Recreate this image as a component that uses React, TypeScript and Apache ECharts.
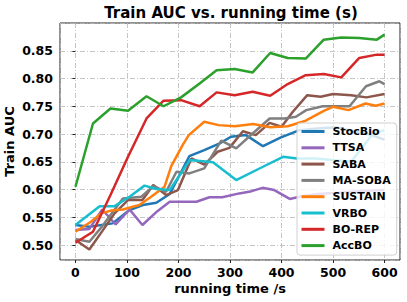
import React, { useEffect, useRef } from "react";
import * as echarts from "echarts";

const seriesNames = ["StocBio", "TTSA", "SABA", "MA-SOBA", "SUSTAIN", "VRBO", "BO-REP", "AccBO"];
const seriesColors = ["#1f77b4", "#9467bd", "#8c564b", "#7f7f7f", "#ff7f0e", "#17becf", "#d62728", "#2ca02c"];

const stocBioT = [0, 27, 72, 105, 131, 157, 183, 221, 250, 280, 302, 331, 364, 399, 435, 470, 505, 540, 575, 600];
const stocBioV = [0.536, 0.533, 0.539, 0.563, 0.572, 0.576, 0.592, 0.660, 0.671, 0.683, 0.695, 0.698, 0.678, 0.694, 0.707, 0.710, 0.712, 0.705, 0.698, 0.690];

const ttsaT = [0, 27, 52, 78, 105, 130, 159, 183, 208, 235, 260, 285, 318, 342, 363, 386, 416, 435, 470, 510, 550, 600];
const ttsaV = [0.527, 0.529, 0.564, 0.537, 0.564, 0.536, 0.561, 0.578, 0.578, 0.578, 0.586, 0.586, 0.593, 0.597, 0.603, 0.599, 0.583, 0.587, 0.592, 0.594, 0.597, 0.599];

const sabaT = [0, 27, 52, 76, 102, 130, 151, 176, 199, 225, 250, 276, 299, 325, 350, 377, 400, 422, 450, 476, 500, 535, 565, 600];
const sabaV = [0.509, 0.492, 0.525, 0.557, 0.581, 0.581, 0.608, 0.590, 0.599, 0.656, 0.645, 0.668, 0.675, 0.705, 0.698, 0.720, 0.713, 0.740, 0.770, 0.767, 0.772, 0.770, 0.766, 0.772];

const maSobaT = [0, 27, 53, 92, 128, 151, 176, 196, 221, 250, 283, 312, 344, 377, 406, 428, 448, 480, 503, 532, 564, 590, 600];
const maSobaV = [0.511, 0.506, 0.535, 0.584, 0.587, 0.606, 0.596, 0.632, 0.629, 0.638, 0.688, 0.674, 0.701, 0.728, 0.728, 0.731, 0.743, 0.750, 0.750, 0.750, 0.786, 0.795, 0.790];

const sustainT = [0, 30, 50, 69, 92, 124, 147, 173, 186, 208, 220, 250, 278, 309, 345, 378, 412, 447, 483, 500, 530, 563, 583, 600];
const sustainV = [0.524, 0.542, 0.557, 0.562, 0.564, 0.572, 0.587, 0.605, 0.642, 0.680, 0.698, 0.722, 0.716, 0.714, 0.718, 0.712, 0.714, 0.724, 0.742, 0.749, 0.743, 0.755, 0.751, 0.755];

const vrboT = [0, 47, 76, 105, 134, 157, 183, 222, 267, 312, 364, 403, 430, 467, 535, 577, 600];
const vrboV = [0.536, 0.570, 0.570, 0.587, 0.607, 0.601, 0.599, 0.653, 0.649, 0.617, 0.641, 0.659, 0.656, 0.656, 0.650, 0.700, 0.707];

const boRepT = [0, 34, 68, 102, 138, 171, 205, 241, 274, 309, 344, 378, 412, 447, 482, 516, 551, 585, 600];
const boRepV = [0.504, 0.524, 0.590, 0.659, 0.728, 0.760, 0.761, 0.750, 0.775, 0.770, 0.776, 0.769, 0.790, 0.806, 0.808, 0.802, 0.837, 0.843, 0.843];

const accBoT = [0, 34, 68, 102, 138, 171, 205, 241, 274, 309, 344, 378, 412, 447, 482, 516, 551, 585, 600];
const accBoV = [0.605, 0.719, 0.746, 0.742, 0.768, 0.750, 0.766, 0.791, 0.815, 0.817, 0.811, 0.846, 0.837, 0.836, 0.870, 0.874, 0.873, 0.870, 0.879];

const allT = [stocBioT, ttsaT, sabaT, maSobaT, sustainT, vrboT, boRepT, accBoT];
const allV = [stocBioV, ttsaV, sabaV, maSobaV, sustainV, vrboV, boRepV, accBoV];

const FONT = "DejaVu Sans";

export default function App() {
  const ref = useRef<HTMLDivElement>(null);
  useEffect(() => {
    if (!ref.current) return;
    const chart = echarts.init(ref.current, undefined, { renderer: "svg" });
    const gridLine = { show: true, lineStyle: { color: "#b8b8b8", width: 0.8, type: [5, 2, 1, 2] } };
    chart.setOption({
      animation: false,
      backgroundColor: "#fff",
      title: {
        text: "Train AUC vs. running time (s)",
        left: 231,
        top: 3,
        padding: 0,
        textAlign: "center",
        textStyle: { fontFamily: FONT, fontWeight: "bold", fontSize: 15, color: "#000", lineHeight: 20 },
      },
      grid: {
        left: 60,
        right: 7,
        top: 23,
        bottom: 42,
        show: true,
        borderColor: "#222",
        borderWidth: 1,
        backgroundColor: "transparent",
        containLabel: false,
        outerBoundsMode: "none",
      },
      xAxis: {
        type: "value",
        min: -30,
        max: 630,
        splitNumber: 6,
        name: "running time /s",
        nameLocation: "middle",
        nameGap: 22,
        nameMoveOverlap: false,
        nameTextStyle: { fontFamily: FONT, fontWeight: "bold", fontSize: 13, color: "#000" },
        axisLine: { show: false },
        axisTick: { show: true, length: 3, lineStyle: { color: "#222" } },
        axisLabel: { showMinLabel: false, showMaxLabel: false, margin: 6, fontFamily: FONT, fontWeight: "bold", fontSize: 12.5, color: "#000" },
        splitLine: gridLine,
      },
      yAxis: {
        type: "value",
        min: 0.473,
        max: 0.9,
        splitNumber: 8,
        name: "Train AUC",
        nameLocation: "middle",
        nameGap: 44,
        nameMoveOverlap: false,
        nameTextStyle: { fontFamily: FONT, fontWeight: "bold", fontSize: 13, color: "#000", lineHeight: 14 },
        axisLine: { show: false },
        axisTick: { show: true, length: 3, lineStyle: { color: "#222" } },
        axisLabel: {
          showMinLabel: false,
          showMaxLabel: false,
          margin: 7,
          fontFamily: FONT,
          fontWeight: "bold",
          fontSize: 12.5,
          color: "#000",
          formatter: (v: number) => v.toFixed(2),
        },
        splitLine: gridLine,
      },
      legend: {
        orient: "vertical",
        left: 297,
        top: 123,
        z: 20,
        padding: [1.5, 6, 2.5, 4.5],
        itemGap: 2.3,
        itemWidth: 23,
        itemHeight: 3,
        backgroundColor: "rgba(255,255,255,0.8)",
        borderColor: "#d0d0d0",
        borderWidth: 1,
        borderRadius: 3,
        textStyle: { fontFamily: FONT, fontWeight: "bold", fontSize: 11, color: "#000", lineHeight: 14, padding: [0, 0, 0, 3] },
        data: seriesNames.map((n) => ({ name: n, icon: "rect" })),
      },
      series: seriesNames.map((n, i) => ({
        name: n,
        type: "line",
        showSymbol: false,
        symbol: "none",
        color: seriesColors[i],
        lineStyle: { width: 2.5, color: seriesColors[i] },
        data: allT[i].map((t, j) => [t, allV[i][j]]),
      })),
    });
    return () => chart.dispose();
  }, []);
  return <div ref={ref} style={{ position: "fixed", left: 0, top: 0, width: 407, height: 302 }} />;
}
